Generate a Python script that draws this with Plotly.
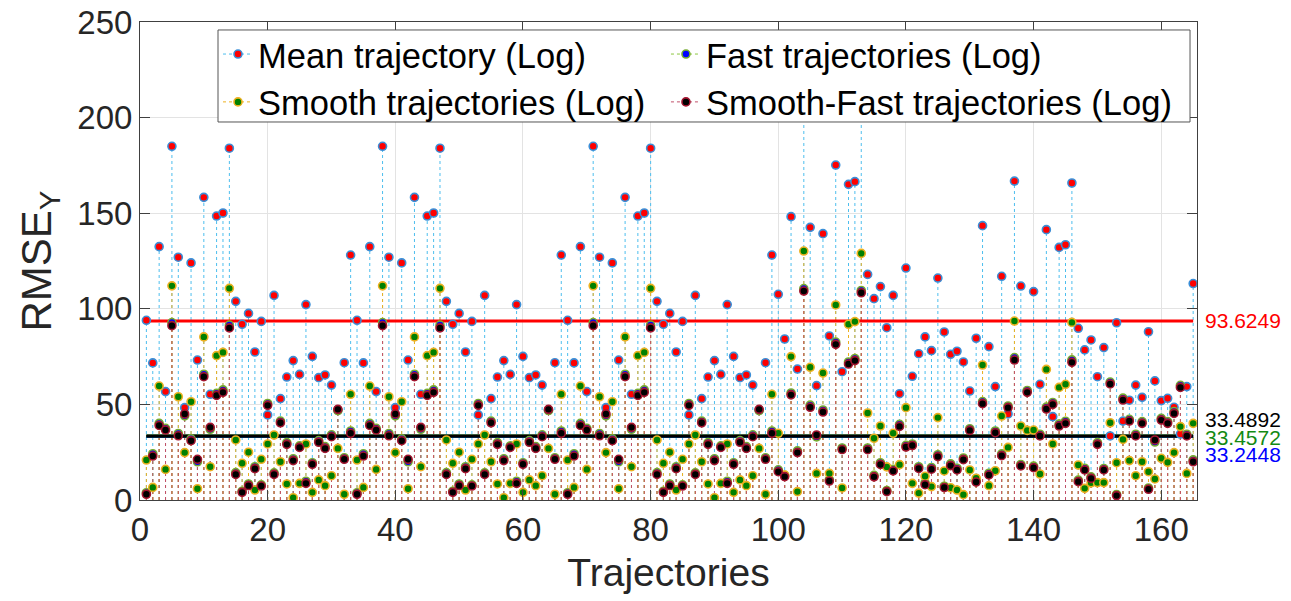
import plotly.graph_objects as go

# ---- data ----
trajectories = list(range(1, 166))

# values for trajectories 1..33 (pattern repeats identically for 34..66 and 67..99)
mean_A = [94.0, 71.7, 132.5, 56.7, 185.0, 127.0, 48.3, 124.0, 73.2, 158.3, 55.3, 148.5, 150.1, 184.0, 103.9,
          91.9, 97.6, 77.4, 93.4, 44.5, 107.0, 53.0, 64.3, 72.9, 65.7, 102.2, 75.1, 64.0, 65.4, 60.1, 47.0, 71.8, 128.1]
fast_A = [3.8, 24.2, 40.1, 37.5, 92.8, 34.8, 44.0, 32.0, 20.0, 65.8, 37.0, 55.8, 57.6, 91.5, 14.3,
          4.6, 8.4, 17.4, 7.9, 50.5, 14.2, 41.3, 30.0, 21.6, 28.3, 9.8, 19.5, 31.1, 27.9, 34.1, 46.8, 22.1, 36.1]
smooth_A = [20.9, 6.6, 59.6, 16.0, 112.0, 54.0, 24.8, 51.4, 5.9, 85.3, 17.4, 75.5, 77.2, 110.7, 31.4,
            19.2, 25.0, 5.2, 21.3, 29.3, 34.0, 20.0, 8.4, 1.2, 8.7, 29.3, 4.0, 10.5, 7.5, 12.7, 27.0, 3.0, 55.3]
sf_A = [3.0, 23.0, 39.0, 36.6, 91.2, 33.6, 45.0, 31.0, 21.3, 64.5, 38.0, 54.7, 56.3, 90.0, 13.4,
        4.0, 7.5, 16.4, 7.3, 49.5, 13.4, 40.4, 29.1, 20.6, 27.5, 8.7, 18.7, 30.2, 27.0, 33.1, 47.4, 21.3, 34.9]

# trajectories 100..132
mean_B = [107.6, 84.2, 148.2, 68.5, 205.0, 142.6, 59.8, 139.3, 85.8, 175.2, 67.1, 165.1, 166.5, 204.0, 118.0,
          105.3, 111.6, 90.1, 107.0, 55.6, 121.3, 64.7, 76.5, 85.3, 78.1, 116.1, 87.9, 76.2, 77.8, 72.2, 57.0, 84.6, 143.5]
fast_B = [15.8, 12.9, 56.0, 25.7, 110.6, 49.6, 33.0, 47.1, 10.7, 82.6, 27.2, 72.2, 74.0, 109.6, 27.2,
          12.9, 19.5, 5.0, 16.0, 39.6, 28.6, 29.3, 17.4, 8.9, 17.0, 23.7, 7.2, 18.9, 16.6, 22.0, 37.3, 10.1, 51.5]
smooth_B = [34.9, 13.0, 75.0, 4.4, 130.2, 69.4, 13.9, 66.4, 13.9, 102.0, 6.3, 91.9, 93.3, 129.0, 45.5,
            32.3, 38.7, 17.3, 34.9, 18.5, 48.3, 8.7, 3.6, 12.4, 7.0, 43.1, 15.2, 6.4, 5.2, 2.8, 15.7, 11.4, 70.6]
sf_B = [14.8, 12.2, 55.0, 24.8, 109.3, 48.5, 34.0, 46.0, 9.9, 81.4, 26.4, 71.1, 72.9, 108.4, 26.3,
        12.1, 18.6, 4.4, 15.2, 38.5, 27.7, 28.5, 16.5, 8.0, 16.1, 22.7, 6.5, 18.0, 15.7, 21.1, 36.4, 9.4, 50.4]

# trajectories 133..165
mean_C = [80.2, 59.3, 117.0, 45.0, 166.8, 111.9, 57.0, 109.0, 60.5, 141.4, 43.6, 132.1, 133.5, 165.8, 89.8,
          78.5, 83.7, 64.5, 79.7, 33.5, 92.7, 41.3, 52.2, 60.1, 53.7, 88.0, 62.3, 52.0, 53.2, 48.5, 34.5, 59.3, 113.2]
fast_C = [14.0, 36.1, 24.1, 49.2, 74.5, 18.6, 57.3, 17.7, 34.4, 48.6, 51.0, 39.7, 41.2, 73.3, 10.4,
          16.6, 12.1, 30.0, 16.5, 61.7, 2.9, 53.3, 42.2, 34.4, 41.0, 6.3, 30.3, 42.7, 41.0, 46.3, 60.0, 34.4, 21.0]
smooth_C = [7.5, 15.3, 43.9, 27.5, 93.6, 38.7, 36.4, 36.6, 13.6, 68.3, 29.3, 58.9, 60.5, 92.9, 18.3,
            6.1, 9.0, 9.1, 9.1, 40.4, 19.5, 31.7, 20.6, 12.7, 20.0, 14.8, 11.0, 21.8, 19.7, 24.8, 38.4, 13.9, 40.1]
sf_C = [13.1, 35.2, 23.2, 48.3, 73.2, 17.8, 56.3, 16.9, 33.5, 47.6, 50.0, 38.7, 40.1, 72.0, 9.6,
        15.7, 11.3, 29.1, 15.7, 60.7, 2.3, 52.3, 41.3, 33.5, 40.1, 5.6, 31.4, 41.8, 40.1, 45.3, 58.9, 33.5, 20.0]

mean_rmse = mean_A + mean_A + mean_A + mean_B + mean_C
fast_rmse = fast_A + fast_A + fast_A + fast_B + fast_C
smooth_rmse = smooth_A + smooth_A + smooth_A + smooth_B + smooth_C
sf_rmse = sf_A + sf_A + sf_A + sf_B + sf_C

series_names = ["Mean trajectory (Log)", "Fast trajectories (Log)",
                "Smooth trajectories (Log)", "Smooth-Fast trajectories (Log)"]
series_values = [mean_rmse, fast_rmse, smooth_rmse, sf_rmse]
average_values = [93.6249, 33.2448, 33.4572, 33.4892]
average_labels = ["93.6249", "33.2448", "33.4572", "33.4892"]

x_ticks = [0, 20, 40, 60, 80, 100, 120, 140, 160]
y_ticks = [0, 50, 100, 150, 200, 250]

# ---- styles ----
stem_colors = ["#4DBEEE", "#8CC63F", "#EDB120", "#C0506A"]
face_colors = ["#FF0000", "#0000FF", "#008000", "#000000"]
edge_colors = ["#3A8FD8", "#77AC30", "#EDB120", "#A2142F"]
avg_line_colors = ["#FF0000", "#0000FF", "#008000", "#000000"]
avg_text_colors = ["#FF0000", "#0000FF", "#138A13", "#000000"]
avg_text_shift = [0, -18, -1, 16]
legend_ids = ["legend", "legend2", "legend", "legend2"]
FONT = "Liberation Sans, Arial, Helvetica, sans-serif"

fig = go.Figure()

# stems
for vals, col in zip(series_values, stem_colors):
    xs, ys = [], []
    for t, v in zip(trajectories, vals):
        xs += [t, t, None]
        ys += [0, v, None]
    fig.add_trace(go.Scatter(x=xs, y=ys, mode="lines", showlegend=False, hoverinfo="skip",
                             line=dict(color=col, width=1, dash="dot")))

# average lines (blue, green under black)
for idx in [0, 1, 2, 3]:
    fig.add_trace(go.Scatter(x=[trajectories[0], trajectories[-1]],
                             y=[average_values[idx], average_values[idx]],
                             mode="lines", showlegend=False, hoverinfo="skip",
                             line=dict(color=avg_line_colors[idx], width=3)))

# markers
for name, vals, fc, ec in zip(series_names, series_values, face_colors, edge_colors):
    fig.add_trace(go.Scatter(x=trajectories, y=vals, mode="markers", showlegend=False, name=name,
                             marker=dict(size=8, color=fc, line=dict(color=ec, width=1.6))))

# legend entries (two columns -> two legends)
for name, sc, fc, ec, lg in zip(series_names, stem_colors, face_colors, edge_colors, legend_ids):
    fig.add_trace(go.Scatter(x=[None], y=[None], mode="lines+markers", name=name, legend=lg,
                             line=dict(color=sc, width=1, dash="dot"),
                             marker=dict(size=8, color=fc, line=dict(color=ec, width=1.6))))

for idx in range(4):
    fig.add_annotation(xref="paper", yref="y", x=1.0, y=average_values[idx], xanchor="left",
                       yanchor="middle", xshift=6, yshift=avg_text_shift[idx], showarrow=False,
                       text=average_labels[idx],
                       font=dict(family=FONT, size=21, color=avg_text_colors[idx]))

# legend frame
fig.add_shape(type="rect", xref="paper", yref="paper", x0=0.0738, x1=0.9934, y0=0.7908, y1=0.9833,
              fillcolor="white", line=dict(color="#555555", width=1), layer="above")

axis_common = dict(showline=True, linecolor="#404040", linewidth=1, mirror="ticks",
                   ticks="inside", ticklen=10, tickcolor="#404040", automargin=False,
                   showgrid=True, gridcolor="#E3E3E3", gridwidth=1, zeroline=False,
                   tickfont=dict(family=FONT, size=33, color="#262626"))

fig.update_xaxes(range=[0, 165.6], tickvals=x_ticks, ticktext=[str(v) for v in x_ticks],
                 title=dict(text="Trajectories", font=dict(family=FONT, size=39, color="#262626"), standoff=12),
                 **axis_common)
fig.update_yaxes(range=[0, 250], tickvals=y_ticks, ticktext=[str(v) for v in y_ticks],
                 title=dict(text="RMSE<sub>Y</sub>", font=dict(family=FONT, size=42, color="#262626"), standoff=12),
                 **axis_common)

legend_common = dict(orientation="v", yanchor="top", xanchor="left", y=0.9935,
                     bgcolor="rgba(0,0,0,0)", borderwidth=0, itemwidth=30, tracegroupgap=0,
                     font=dict(family=FONT, size=34.5, color="#000000"))

fig.update_layout(
    width=1291, height=601,
    margin=dict(l=140, r=94, t=22, b=101),
    plot_bgcolor="white", paper_bgcolor="white",
    font=dict(family=FONT, color="#262626"),
    legend=dict(x=0.0738, **legend_common),
    legend2=dict(x=0.4976, **legend_common),
)

fig.write_html("out.html")
